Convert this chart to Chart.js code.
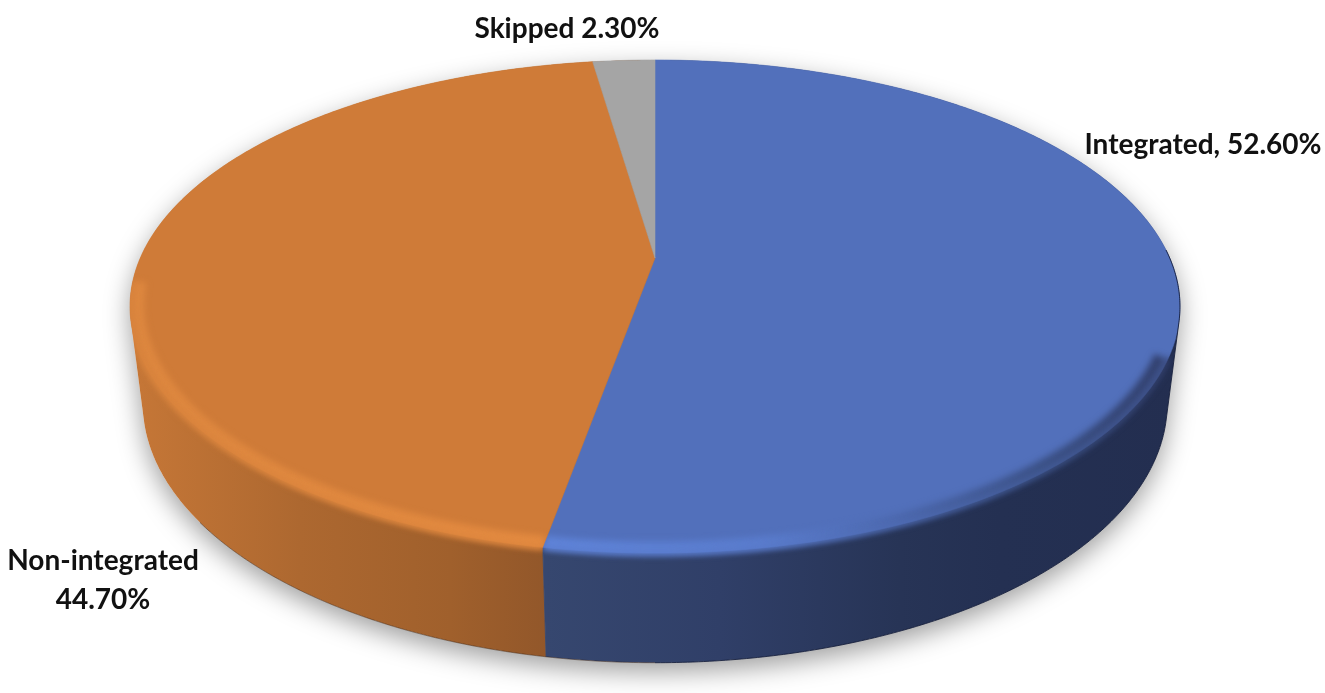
<!DOCTYPE html>
<html>
<head>
<meta charset="utf-8">
<title>Integrated vs non-integrated</title>
<script src="https://cdn.jsdelivr.net/npm/chart.js@4"></script>
<style>
  html, body { margin: 0; padding: 0; background: #fff; }
  #wrap { width: 1325px; height: 693px; }
</style>
</head>
<body>
<div id="wrap"><canvas id="pieChart" width="1325" height="693"></canvas></div>
<script>
const categories = ['Integrated,', 'Non-integrated', 'Skipped'];
const shares = [52.6, 44.7, 2.3];
const topColors = ['#5270bb', '#cf7b38', '#a5a5a5'];

// perspective of the disc, fitted by eye against the reference
const tilt = 0.1968;
const spreadX = 1.995;
const spreadY = 0.7217;
const depthY = 104;
const depthW = 0.024;

function project(arc, angle, low, shrink) {
  const r = shrink || 1;
  const u = r * Math.cos(angle), v = r * Math.sin(angle);
  const R = arc.outerRadius;
  const w = 1 - tilt * v + (low ? depthW : 0);
  return {
    x: arc.x + spreadX * R * u / w,
    y: (arc.y + spreadY * R * v + (low ? depthY : 0)) / w
  };
}

function traceRim(ctx, arc, a0, a1, low, first, shrink) {
  const steps = Math.max(2, Math.ceil(Math.abs(a1 - a0) * 90));
  for (let i = 0; i <= steps; i++) {
    const p = project(arc, a0 + (a1 - a0) * i / steps, low, shrink);
    if (i === 0 && first) ctx.moveTo(p.x, p.y);
    else ctx.lineTo(p.x, p.y);
  }
}

function hGrad(ctx, stops) {
  const g = ctx.createLinearGradient(130, 0, 1181, 0);
  stops.forEach(s => g.addColorStop((s[0] - 130) / 1051, s[1]));
  return g;
}

// outline of the whole disc: convex hull of the upper and lower rims
function discHull(arc) {
  const pts = [];
  for (let i = 0; i < 720; i++) {
    const a = i / 720 * Math.PI * 2;
    pts.push(project(arc, a, false), project(arc, a, true));
  }
  pts.sort((p, q) => p.x - q.x || p.y - q.y);
  const cross = (o, p, q) => (p.x - o.x) * (q.y - o.y) - (p.y - o.y) * (q.x - o.x);
  const half = list => {
    const out = [];
    list.forEach(p => {
      while (out.length > 1 && cross(out[out.length - 2], out[out.length - 1], p) <= 0) out.pop();
      out.push(p);
    });
    out.pop();
    return out;
  };
  return half(pts).concat(half(pts.slice().reverse()));
}

function traceHull(ctx, hull) {
  ctx.beginPath();
  hull.forEach((p, i) => (i ? ctx.lineTo(p.x, p.y) : ctx.moveTo(p.x, p.y)));
  ctx.closePath();
}

// everything on one side of the seam where the two big slices meet at the front
function traceSide(ctx, arc, seamAngle, edgeX) {
  const top = project(arc, seamAngle, false);
  const low = project(arc, seamAngle, true);
  ctx.beginPath();
  ctx.moveTo(arc.x, arc.y);
  ctx.lineTo(top.x, top.y);
  ctx.lineTo(low.x, low.y);
  ctx.lineTo(low.x, 693);
  ctx.lineTo(edgeX, 693);
  ctx.lineTo(edgeX, 0);
  ctx.lineTo(arc.x, 0);
  ctx.closePath();
}

const disc3d = {
  id: 'disc3d',
  beforeDatasetDraw(chart, args) {
    const ctx = chart.ctx;
    const arcs = args.meta.data;
    const hull = discHull(arcs[0]);
    const seam = arcs[0].endAngle;
    const edges = [1325, 0];

    const wallFills = [
      hGrad(ctx, [[545, '#36476f'], [720, '#303f68'], [900, '#273456'], [1000, '#243052'], [1181, '#232e50']]),
      hGrad(ctx, [[130, '#c67737'], [300, '#ad6830'], [450, '#a0602c'], [547, '#92572a']])
    ];

    // soft ground shadow
    ctx.save();
    ctx.shadowColor = 'rgba(0,0,0,0.38)';
    ctx.shadowBlur = 26;
    ctx.shadowOffsetY = 9;
    ctx.fillStyle = '#fff';
    traceHull(ctx, hull);
    ctx.fill();
    ctx.restore();

    // side walls
    ctx.save();
    traceHull(ctx, hull);
    ctx.clip();
    [1, 0].forEach(i => {
      traceSide(ctx, arcs[0], seam, edges[i]);
      ctx.fillStyle = ctx.strokeStyle = wallFills[i];
      ctx.lineWidth = 0.8;
      ctx.fill();
      ctx.stroke();
    });
    ctx.restore();

    // top face
    arcs.forEach(arc => {
      ctx.beginPath();
      ctx.moveTo(arc.x, arc.y);
      traceRim(ctx, arc, arc.startAngle, arc.endAngle, false, false);
      ctx.closePath();
      ctx.fillStyle = arc.options.backgroundColor;
      ctx.fill();
      ctx.strokeStyle = arc.options.backgroundColor;
      ctx.lineWidth = 0.6;
      ctx.stroke();
    });

    // bevel along the front of the rim
    const bevels = [
      hGrad(ctx, [[545, '#5f83d8'], [760, '#5a7ccd'], [900, '#4c68ae'], [1040, '#3c5288'], [1181, '#323f6c']]),
      hGrad(ctx, [[130, '#dd873f'], [547, '#e38a40']])
    ];
    ctx.save();
    traceHull(ctx, hull);
    ctx.clip();
    [0, 1].forEach(i => {
      const arc = arcs[i];
      const start = i === 0 ? 0.4 : arc.startAngle;
      const end = i === 0 ? arc.endAngle : Math.PI - 0.1;
      ctx.save();
      traceSide(ctx, arcs[0], seam, edges[i]);
      ctx.clip();
      ctx.filter = 'blur(3px)';
      ctx.strokeStyle = bevels[i];
      ctx.lineWidth = 12;
      ctx.beginPath();
      traceRim(ctx, arc, start, end, false, true, 0.985);
      ctx.stroke();
      ctx.lineWidth = 5;
      ctx.beginPath();
      traceRim(ctx, arc, start, end, false, true);
      ctx.stroke();
      ctx.restore();
    });
    ctx.restore();

    // thin dark edge around the blue side and under the orange wall
    ctx.save();
    ctx.beginPath();
    ctx.rect(1000, 250, 325, 443);
    ctx.rect(655, 500, 345, 193);
    ctx.clip();
    ctx.strokeStyle = 'rgba(20,28,56,0.85)';
    ctx.lineWidth = 1;
    traceHull(ctx, hull);
    ctx.stroke();
    ctx.restore();
    ctx.save();
    ctx.beginPath();
    ctx.rect(200, 500, 455, 193);
    ctx.clip();
    ctx.strokeStyle = 'rgba(60,34,16,0.5)';
    ctx.lineWidth = 1;
    traceHull(ctx, hull);
    ctx.stroke();
    ctx.restore();

    return false; // the library's flat arcs are replaced by the disc above
  },
  afterDraw(chart) {
    const ctx = chart.ctx;
    ctx.save();
    ctx.fillStyle = '#111';
    ctx.font = 'bold 28px Lato, "Open Sans", sans-serif';
    ctx.textAlign = 'center';
    ctx.textBaseline = 'middle';
    const pct = v => v.toFixed(2) + '%';
    ctx.fillText(categories[2] + ' ' + pct(shares[2]), 567, 29);
    ctx.fillText(categories[0] + ' ' + pct(shares[0]), 1203, 145);
    ctx.fillText(categories[1], 103, 561);
    ctx.fillText(pct(shares[1]), 103, 600);
    ctx.restore();
  }
};

new Chart(document.getElementById('pieChart'), {
  type: 'pie',
  data: {
    labels: categories,
    datasets: [{ data: shares, backgroundColor: topColors, borderWidth: 0 }]
  },
  options: {
    responsive: false,
    animation: false,
    layout: { padding: { left: 0, right: 15, top: 0, bottom: 177 } },
    plugins: { legend: { display: false }, tooltip: { enabled: false } }
  },
  plugins: [disc3d]
});
</script>
</body>
</html>
